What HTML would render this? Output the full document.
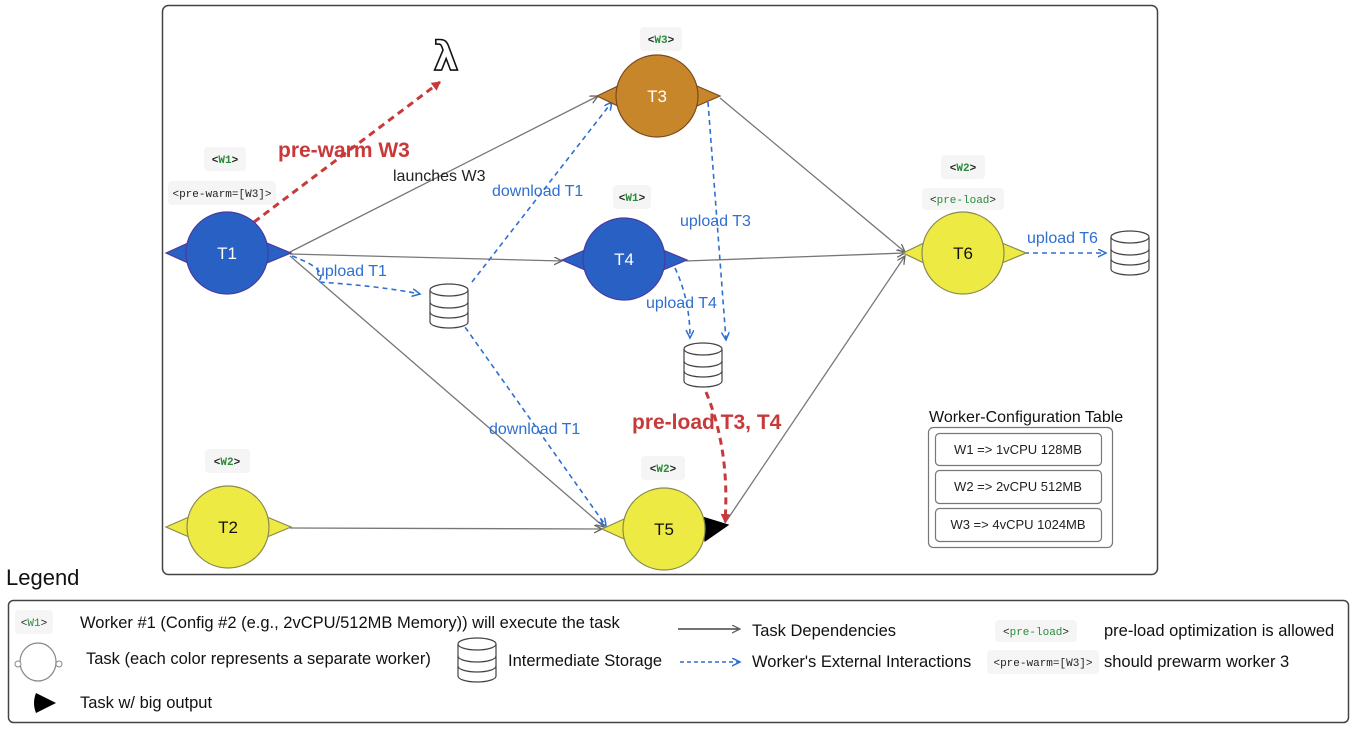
<!DOCTYPE html>
<html><head><meta charset="utf-8"><style>
html,body{margin:0;padding:0;background:#fff;}
svg{display:block;}
text{font-family:"Liberation Sans",sans-serif;}
text.m{font-family:"Liberation Mono",monospace;font-size:11px;font-weight:bold;fill:#222;}
text.mn{font-family:"Liberation Mono",monospace;font-size:11px;fill:#222;}
text.lam{font-family:"DejaVu Sans",sans-serif;}
.g{fill:#2a8a3a;}
text.bl{fill:#2e6fd0;font-size:16px;}
text.lg{font-size:16.5px;fill:#111;}
</style></head><body>
<svg width="1352" height="729" viewBox="0 0 1352 729" xmlns="http://www.w3.org/2000/svg">
<defs>
<marker id="ag" markerWidth="10" markerHeight="10" refX="8" refY="4" orient="auto" markerUnits="userSpaceOnUse"><path d="M0,0 L8,4 L0,8" fill="none" stroke="#666" stroke-width="1.3"/></marker>
<marker id="ab" markerWidth="10" markerHeight="10" refX="8" refY="4" orient="auto" markerUnits="userSpaceOnUse"><path d="M0,0 L8,4 L0,8" fill="none" stroke="#2e6fd0" stroke-width="1.5"/></marker>
<marker id="ar" markerWidth="12" markerHeight="12" refX="8" refY="5" orient="auto" markerUnits="userSpaceOnUse"><path d="M0,0 L9,5 L0,10 z" fill="#c8393a"/></marker>
<g id="db"><path d="M-19,-16 L-19,16 A19,6 0 0 0 19,16 L19,-16" fill="#fff" stroke="#444" stroke-width="1.2"/><ellipse cx="0" cy="-16" rx="19" ry="6" fill="#fff" stroke="#444" stroke-width="1.2"/><path d="M-19,-4 A19,6 0 0 0 19,-4 M-19,6 A19,6 0 0 0 19,6" fill="none" stroke="#444" stroke-width="1.2"/></g>
</defs>
<rect x="162.5" y="5.5" width="995" height="569" rx="6" fill="#fff" stroke="#444" stroke-width="1.5"/>

<g stroke="#777" stroke-width="1.3" fill="none" marker-end="url(#ag)">
<line x1="290" y1="252" x2="598" y2="96"/>
<line x1="290" y1="254" x2="562" y2="261"/>
<line x1="290" y1="256" x2="604" y2="527"/>
<line x1="290" y1="528" x2="602" y2="529"/>
<line x1="720" y1="98" x2="905" y2="252"/>
<line x1="686" y1="261" x2="905" y2="253"/>
<line x1="725" y1="523" x2="905" y2="256"/>
</g>
<g stroke="#2e6fd0" stroke-width="1.6" fill="none" stroke-dasharray="5,4" marker-end="url(#ab)">
<path d="M292,256 Q330,270 318,282 Q380,286 420,294"/>
<line x1="472" y1="282" x2="612" y2="102"/>
<line x1="460" y1="320" x2="606" y2="526"/>
<line x1="708" y1="102" x2="726" y2="340"/>
<path d="M675,268 Q690,300 690,338"/>
<line x1="1024" y1="253" x2="1106" y2="253"/>
</g>
<g stroke="#c8393a" stroke-width="3" fill="none" stroke-dasharray="7,5" marker-end="url(#ar)">
<line x1="254" y1="222" x2="440" y2="82"/>
<path d="M706,392 Q730,450 725,522"/>
</g>

<g stroke-width="1.2">
<g fill="#2860c4" stroke="#4a3aa0"><polygon points="166,253 188,243 188,263"/><polygon points="267,243 291,253 267,263"/><circle cx="227" cy="253" r="41"/></g>
<g fill="#c8862a" stroke="#7a4a20"><polygon points="597,96 618,86 618,106"/><polygon points="697,86 720,96 697,106"/><circle cx="657" cy="96" r="41"/></g>
<g fill="#2860c4" stroke="#4a3aa0"><polygon points="562,260 585,250 585,270"/><polygon points="663,250 687,260 663,270"/><circle cx="624" cy="259" r="41"/></g>
<g fill="#eeea44" stroke="#8a8a50"><polygon points="903,253 924,243 924,263"/><polygon points="1002,243 1026,253 1002,263"/><circle cx="963" cy="253" r="41"/></g>
<g fill="#eeea44" stroke="#8a8a50"><polygon points="166,527 189,517 189,537"/><polygon points="267,517 291,527 267,537"/><circle cx="228" cy="527" r="41"/></g>
<g fill="#eeea44" stroke="#8a8a50"><polygon points="602,529 624,519 624,539"/><polygon points="702,517 728,525 705,541" fill="#000" stroke="#000"/><circle cx="664" cy="529" r="41"/></g>
</g>
<g font-size="17" text-anchor="middle">
<text x="227" y="259" fill="#fff">T1</text>
<text x="657" y="102" fill="#fff">T3</text>
<text x="624" y="265" fill="#fff">T4</text>
<text x="963" y="259" fill="#111">T6</text>
<text x="228" y="533" fill="#111">T2</text>
<text x="664" y="535" fill="#111">T5</text>
</g>

<use href="#db" x="449" y="306"/>
<use href="#db" x="703" y="365"/>
<use href="#db" x="1130" y="253"/>

<text x="446" y="70" class="lam" font-size="40" font-weight="bold" text-anchor="middle" fill="#fff" stroke="#111" stroke-width="1.6">λ</text>

<text x="278" y="157" font-size="21" font-weight="bold" fill="#c8393a">pre-warm W3</text>
<text x="393" y="181" font-size="16" fill="#222">launches W3</text>
<text x="492" y="196" class="bl">download T1</text>
<text x="680" y="226" class="bl">upload T3</text>
<text x="316" y="276" class="bl">upload T1</text>
<text x="646" y="308" class="bl">upload T4</text>
<text x="489" y="434" class="bl">download T1</text>
<text x="632" y="429" font-size="21" font-weight="bold" fill="#c8393a">pre-load T3, T4</text>
<text x="1027" y="243" class="bl">upload T6</text>

<g fill="#f5f5f5">
<rect x="640" y="27" width="42" height="24" rx="4"/>
<rect x="204" y="147" width="42" height="24" rx="4"/>
<rect x="168" y="181" width="108" height="24" rx="4"/>
<rect x="613" y="185" width="38" height="24" rx="4"/>
<rect x="941" y="155" width="44" height="24" rx="4"/>
<rect x="922" y="188" width="82" height="22" rx="4"/>
<rect x="205" y="449" width="45" height="24" rx="4"/>
<rect x="641" y="456" width="44" height="24" rx="4"/>
</g>
<g text-anchor="middle">
<text x="661" y="43" class="m">&lt;<tspan class="g">W3</tspan>&gt;</text>
<text x="225" y="163" class="m">&lt;<tspan class="g">W1</tspan>&gt;</text>
<text x="222" y="197" class="mn">&lt;pre-warm=[W3]&gt;</text>
<text x="632" y="201" class="m">&lt;<tspan class="g">W1</tspan>&gt;</text>
<text x="963" y="171" class="m">&lt;<tspan class="g">W2</tspan>&gt;</text>
<text x="963" y="203" class="mn" font-size="10">&lt;<tspan class="g">pre-load</tspan>&gt;</text>
<text x="227" y="465" class="m">&lt;<tspan class="g">W2</tspan>&gt;</text>
<text x="663" y="472" class="m">&lt;<tspan class="g">W2</tspan>&gt;</text>
</g>

<text x="929" y="422" font-size="16" fill="#111">Worker-Configuration Table</text>
<rect x="928.5" y="427.5" width="184" height="120" rx="5" fill="#fff" stroke="#777" stroke-width="1.2"/>
<g fill="#fff" stroke="#777" stroke-width="1.2">
<rect x="935.5" y="433.5" width="166" height="32" rx="4"/>
<rect x="935.5" y="470.5" width="166" height="33" rx="4"/>
<rect x="935.5" y="508.5" width="166" height="33" rx="4"/>
</g>
<g font-size="13" fill="#222" text-anchor="middle">
<text x="1018" y="454">W1 =&gt; 1vCPU 128MB</text>
<text x="1018" y="491">W2 =&gt; 2vCPU 512MB</text>
<text x="1018" y="529">W3 =&gt; 4vCPU 1024MB</text>
</g>

<text x="6" y="585" font-size="22" fill="#111">Legend</text>
<rect x="8.5" y="600.5" width="1340" height="122" rx="5" fill="#fff" stroke="#444" stroke-width="1.5"/>
<rect x="15" y="610" width="38" height="24" rx="4" fill="#f5f5f5"/>
<text x="34" y="626" class="mn" text-anchor="middle">&lt;<tspan class="g">W1</tspan>&gt;</text>
<text x="80" y="628" class="lg">Worker #1 (Config #2 (e.g., 2vCPU/512MB Memory)) will execute the task</text>
<ellipse cx="38" cy="662" rx="18" ry="19" fill="#fff" stroke="#888" stroke-width="1.2"/>
<circle cx="18" cy="664" r="3" fill="#fff" stroke="#888"/>
<circle cx="59" cy="664" r="3" fill="#fff" stroke="#888"/>
<text x="86" y="664" class="lg">Task (each color represents a separate worker)</text>
<use href="#db" x="477" y="660"/>
<text x="508" y="666" class="lg">Intermediate Storage</text>
<path d="M36,693 L56,703 L36,713 Q32,703 36,693z" fill="#000"/>
<text x="80" y="708" class="lg">Task w/ big output</text>
<line x1="678" y1="629" x2="740" y2="629" stroke="#222" stroke-width="1.3" marker-end="url(#ag)"/>
<text x="752" y="636" class="lg">Task Dependencies</text>
<line x1="680" y1="662" x2="740" y2="662" stroke="#2e6fd0" stroke-width="1.5" stroke-dasharray="4,3" marker-end="url(#ab)"/>
<text x="752" y="667" class="lg">Worker's External Interactions</text>
<rect x="995" y="620" width="82" height="22" rx="4" fill="#f5f5f5"/>
<text x="1036" y="635" class="mn" font-size="10" text-anchor="middle">&lt;<tspan class="g">pre-load</tspan>&gt;</text>
<text x="1104" y="636" class="lg">pre-load optimization is allowed</text>
<rect x="987" y="650" width="112" height="24" rx="4" fill="#f5f5f5"/>
<text x="1043" y="666" class="mn" font-size="10" text-anchor="middle">&lt;pre-warm=[W3]&gt;</text>
<text x="1104" y="667" class="lg">should prewarm worker 3</text>
</svg>
</body></html>
